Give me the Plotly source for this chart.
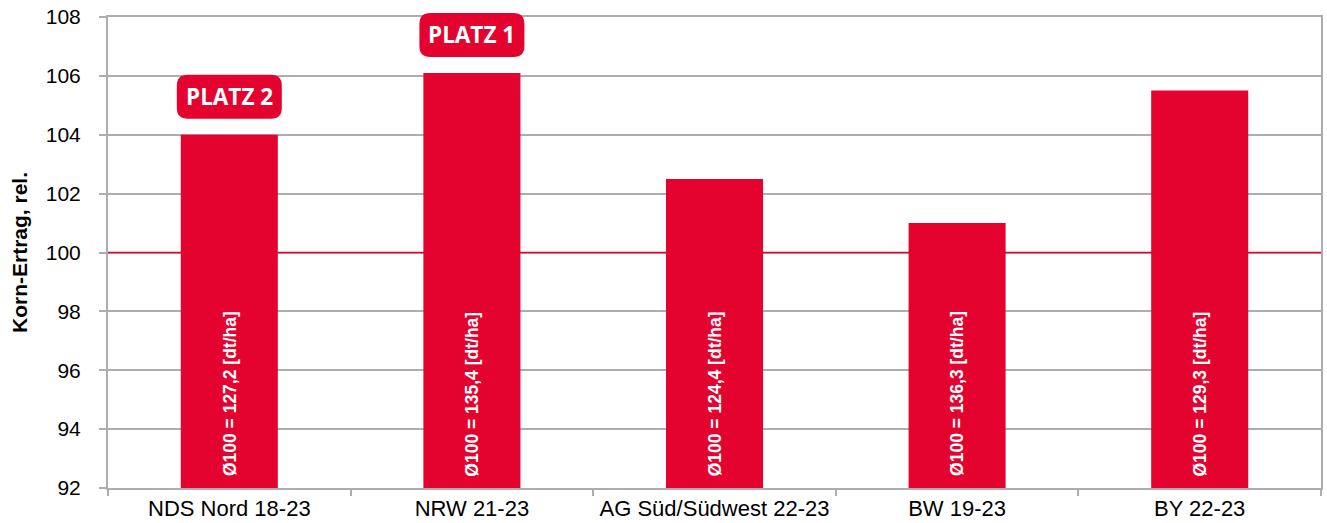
import plotly.graph_objects as go

categories = ["NDS Nord 18-23", "NRW 21-23", "AG Süd/Südwest 22-23", "BW 19-23", "BY 22-23"]
values = [104.0, 106.1, 102.5, 101.0, 105.5]
bar_labels = ["Ø100 = 127,2 [dt/ha]", "Ø100 = 135,4 [dt/ha]", "Ø100 = 124,4 [dt/ha]",
              "Ø100 = 136,3 [dt/ha]", "Ø100 = 129,3 [dt/ha]"]
badges = {"NDS Nord 18-23": "PLATZ 2", "NRW 21-23": "PLATZ 1"}
y_ticks = [92, 94, 96, 98, 100, 102, 104, 106, 108]

RED = "#E4032E"
GRID = "#ADADAD"
YMIN, YMAX = 92, 108

fig = go.Figure()
fig.add_trace(go.Bar(x=categories, y=values, marker=dict(color=RED, line=dict(width=0)),
                     width=0.4, hoverinfo="skip"))

# reference line at 100
fig.add_shape(type="line", xref="paper", yref="y", x0=0, x1=1, y0=100, y1=100,
              line=dict(color=RED, width=1.5), layer="above")

# vertical labels inside bars
for c, t in zip(categories, bar_labels):
    fig.add_annotation(x=c, y=95.2, xref="x", yref="y", text=f"<b>{t}</b>", textangle=-90,
                       showarrow=False, font=dict(family="Liberation Sans", size=17.5, color="white"))

# badges
w, h, r = 105, 44, 11
path = (f"M {-w/2 + r},{-h/2} L {w/2 - r},{-h/2} Q {w/2},{-h/2} {w/2},{-h/2 + r} "
        f"L {w/2},{h/2 - r} Q {w/2},{h/2} {w/2 - r},{h/2} L {-w/2 + r},{h/2} "
        f"Q {-w/2},{h/2} {-w/2},{h/2 - r} L {-w/2},{-h/2 + r} Q {-w/2},{-h/2} {-w/2 + r},{-h/2} Z")
for c, v in zip(categories, values):
    if c in badges:
        yc = v + 1.29
        yp = (yc - YMIN) / (YMAX - YMIN)
        fig.add_shape(type="path", xref="x", yref="paper", xsizemode="pixel", ysizemode="pixel",
                      xanchor=c, yanchor=yp, path=path, fillcolor=RED, line=dict(width=0), layer="above")
        fig.add_annotation(x=c, y=yp, xref="x", yref="paper", text=f"<b>{badges[c]}</b>",
                           showarrow=False, xanchor="center", yanchor="middle",
                           font=dict(family="Open Sans", size=22.5, color="white"))

fig.update_layout(
    width=1327, height=523,
    margin=dict(l=108, r=6, t=17, b=35),
    plot_bgcolor="white", paper_bgcolor="white",
    showlegend=False,
    font=dict(family="Liberation Sans", color="black"),
)
fig.update_xaxes(
    type="category", tickson="boundaries", ticks="outside", ticklen=6, tickwidth=2, tickcolor=GRID,
    showline=True, linecolor=GRID, linewidth=2, mirror=True, automargin=False,
    tickfont=dict(size=22, color="black"), showgrid=False,
)
fig.update_yaxes(
    range=[YMIN, YMAX], tickvals=y_ticks, ticks="outside", ticklen=7, tickwidth=2, tickcolor=GRID,
    showline=True, linecolor=GRID, linewidth=2, mirror=True, ticklabelstandoff=14,
    ticklabeloverflow="allow", automargin=False,
    showgrid=True, gridcolor=GRID, gridwidth=2, zeroline=False,
    tickfont=dict(size=21, color="black"),
    title=dict(text="<b>Korn-Ertrag, rel.</b>", font=dict(size=21, color="black"), standoff=12),
)

fig.write_html("out.html", config={"displayModeBar": False},
               post_script="document.body.style.margin='0';document.body.style.overflow='hidden';")
